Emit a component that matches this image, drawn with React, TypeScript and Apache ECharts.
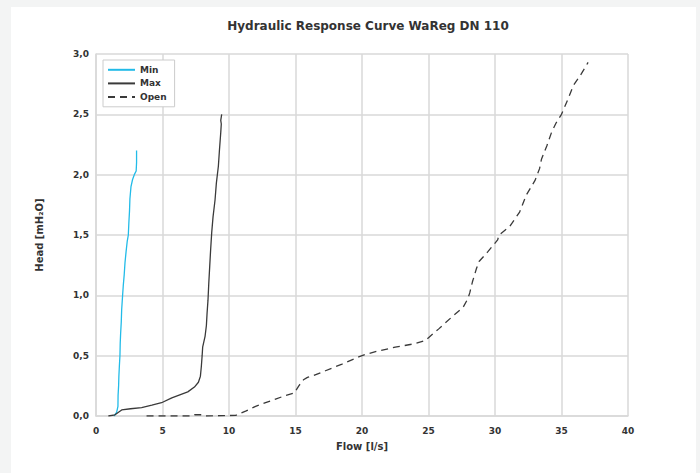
import React, { useEffect, useRef } from "react";
import * as echarts from "echarts";

const titleText = "Hydraulic Response Curve WaReg DN 110";
const xAxisName = "Flow [l/s]";
const yAxisName = "Head [mH₂O]";
const seriesNames = ["Min", "Max", "Open"];

const minCurve: [number, number][] = [
  [1.35, 0.0], [1.55, 0.03], [1.65, 0.08], [1.66, 0.17], [1.7, 0.25], [1.72, 0.33],
  [1.76, 0.42], [1.8, 0.5], [1.82, 0.6], [1.85, 0.68], [1.9, 0.78], [1.93, 0.88],
  [2.0, 1.0], [2.05, 1.08], [2.12, 1.17], [2.18, 1.27], [2.26, 1.36], [2.35, 1.45],
  [2.43, 1.5], [2.47, 1.6], [2.52, 1.7], [2.55, 1.8], [2.63, 1.9], [2.75, 1.96],
  [2.88, 2.0], [3.02, 2.03], [3.05, 2.1], [3.05, 2.2],
];

const maxCurve: [number, number][] = [
  [0.93, 0.0], [1.43, 0.01], [1.93, 0.05], [2.6, 0.06], [3.43, 0.07], [4.2, 0.09],
  [4.93, 0.11], [5.7, 0.15], [6.4, 0.18], [6.9, 0.2], [7.4, 0.24], [7.7, 0.28],
  [7.85, 0.33], [7.92, 0.41], [7.98, 0.5], [8.02, 0.57], [8.2, 0.66], [8.3, 0.75],
  [8.35, 0.85], [8.42, 0.96], [8.48, 1.1], [8.55, 1.24], [8.62, 1.38], [8.7, 1.52],
  [8.8, 1.65], [8.95, 1.79], [9.05, 1.93], [9.2, 2.07], [9.28, 2.2], [9.38, 2.35],
  [9.42, 2.42], [9.38, 2.45], [9.45, 2.5],
];

const openCurve: [number, number][] = [
  [3.8, 0.0], [7.2, 0.0], [7.45, 0.012], [8.0, 0.01], [8.2, 0.0], [10.5, 0.005],
  [11.25, 0.04], [12.0, 0.08], [12.75, 0.11], [13.5, 0.14], [14.25, 0.17],
  [14.9, 0.19], [15.25, 0.25], [15.6, 0.3], [15.9, 0.32], [16.25, 0.33],
  [17.25, 0.375], [18.5, 0.43], [19.75, 0.49], [20.25, 0.51], [21.25, 0.54],
  [22.5, 0.57], [24.0, 0.6], [24.75, 0.625], [25.75, 0.72], [26.75, 0.82],
  [27.6, 0.9], [27.95, 0.97], [28.1, 1.02], [28.3, 1.11], [28.6, 1.22],
  [28.8, 1.28], [29.45, 1.36], [30.2, 1.46], [30.3, 1.5], [31.1, 1.57],
  [31.85, 1.69], [32.35, 1.83], [33.0, 1.95], [33.35, 2.05], [33.5, 2.13],
  [33.9, 2.24], [34.25, 2.35], [34.6, 2.43], [35.0, 2.5], [35.5, 2.63],
  [35.9, 2.74], [36.4, 2.82], [37.0, 2.93],
];

const FONT = "'DejaVu Sans', 'Noto Sans', sans-serif";
const TEXT = "#333333";
const GRIDC = "#d9d9d9";

export default function App() {
  const ref = useRef<HTMLDivElement>(null);
  useEffect(() => {
    if (!ref.current) return;
    const chart = echarts.init(ref.current, undefined, { renderer: "svg" });
    chart.setOption({
      animation: false,
      backgroundColor: "#ffffff",
      textStyle: { fontFamily: FONT },
      title: {
        text: titleText,
        left: 352,
        top: 8,
        textAlign: "center",
        textStyle: { fontSize: 12, fontWeight: "bold", color: TEXT, fontFamily: FONT },
      },
      legend: {
        orient: "vertical",
        left: 92,
        top: 53,
        padding: [5, 8, 5, 4],
        itemGap: 4,
        itemWidth: 27,
        itemHeight: 12,
        backgroundColor: "#ffffff",
        borderColor: "#cccccc",
        borderWidth: 1,
        borderRadius: 0,
        data: seriesNames,
        itemStyle: { opacity: 0 },
        textStyle: { fontSize: 9, fontWeight: "bold", color: TEXT, fontFamily: FONT },
      },
      grid: { left: 85, right: 68, top: 47, bottom: 57, containLabel: false },
      xAxis: {
        type: "value",
        min: 0,
        max: 40,
        interval: 5,
        name: xAxisName,
        nameLocation: "middle",
        nameGap: 25,
        nameTextStyle: { fontSize: 10, fontWeight: "bold", color: TEXT, fontFamily: FONT },
        axisLine: { show: true, lineStyle: { color: GRIDC, width: 1.5 } },
        axisTick: { show: false },
        axisLabel: { fontSize: 9, fontWeight: "bold", color: TEXT, margin: 10, fontFamily: FONT },
        splitLine: { show: true, lineStyle: { color: GRIDC, width: 1.5 } },
      },
      yAxis: {
        type: "value",
        min: 0,
        max: 3,
        interval: 0.5,
        name: yAxisName,
        nameLocation: "middle",
        nameGap: 52,
        nameTextStyle: { fontSize: 10, fontWeight: "bold", color: TEXT, fontFamily: FONT },
        axisLine: { show: true, lineStyle: { color: GRIDC, width: 1.5 } },
        axisTick: { show: false },
        axisLabel: {
          fontSize: 9,
          fontWeight: "bold",
          color: TEXT,
          margin: 7,
          fontFamily: FONT,
          formatter: (v: number) => v.toFixed(1).replace(".", ","),
        },
        splitLine: { show: true, lineStyle: { color: GRIDC, width: 1.5 } },
      },
      series: [
        {
          name: seriesNames[0],
          type: "line",
          data: minCurve,
          symbol: "none",
          lineStyle: { color: "#22bbe8", width: 1.3 },
          itemStyle: { color: "#22bbe8" },
        },
        {
          name: seriesNames[1],
          type: "line",
          data: maxCurve,
          symbol: "none",
          lineStyle: { color: "#3a3a3a", width: 1.3 },
          itemStyle: { color: "#3a3a3a" },
        },
        {
          name: seriesNames[2],
          type: "line",
          data: openCurve,
          symbol: "none",
          lineStyle: { color: "#3a3a3a", width: 1.3, type: [7, 5] },
          itemStyle: { color: "#3a3a3a" },
        },
      ],
    });
    return () => chart.dispose();
  }, []);

  return (
    <div
      style={{
        position: "fixed",
        left: 0,
        top: 0,
        width: 700,
        height: 473,
        background: "#f3f4f4",
        overflow: "hidden",
      }}
    >
      <div
        ref={ref}
        style={{ position: "absolute", left: 11, top: 7, width: 685, height: 466, background: "#ffffff" }}
      />
    </div>
  );
}
